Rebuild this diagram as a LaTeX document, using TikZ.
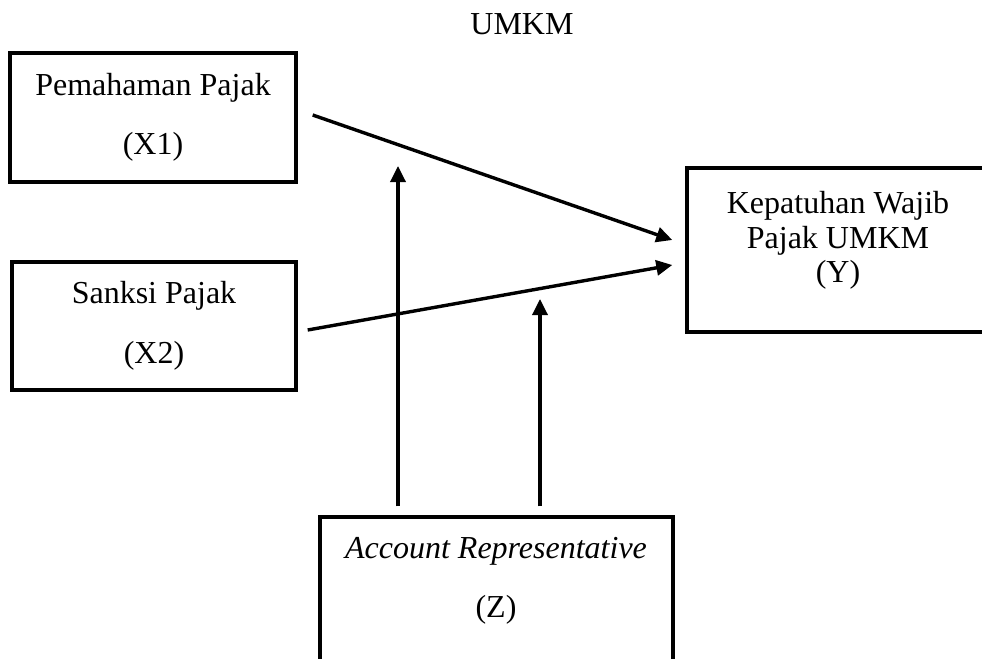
\documentclass[tikz,border=0pt]{standalone}
\usepackage{fontspec}
\setmainfont{Liberation Serif}
\usetikzlibrary{arrows.meta,calc}

\tikzset{
  box/.style={draw, line width=1.7pt, inner sep=0pt},
  txt/.style={anchor=base, inner sep=0pt, font=\fontsize{16}{19}\selectfont},
  link/.style={line width=1.7pt, -{Triangle[length=8pt,width=7.5pt]}}
}

\begin{document}
\begin{tikzpicture}[x=0.5pt,y=-0.5pt]
    \useasboundingbox (0,0) rectangle (982,659);

    \node[txt] (title) at (522,34){UMKM};

    \node[box, minimum width=143pt, minimum height=64.5pt] (x1) at (153,117.5){};
    \node[txt] (x1a) at (153,95){Pemahaman Pajak};
    \node[txt] (x1b) at (153,154){(X1)};

    \node[box, minimum width=142pt, minimum height=64pt] (x2) at (154,326){};
    \node[txt] (x2a) at (154,303){Sanksi Pajak};
    \node[txt] (x2b) at (154,363){(X2)};

    \node[box, minimum width=156.5pt, minimum height=82pt] (y) at (843.5,250){};
    \node[txt] (ya) at (838,213){Kepatuhan Wajib};
    \node[txt] (yb) at (838,248){Pajak UMKM};
    \node[txt] (yc) at (838,282){(Y)};

    \node[box, minimum width=176.5pt, minimum height=81.5pt] (z) at (496.5,598.5){};
    \node[txt] (za) at (496,558){\itshape Account Representative};
    \node[txt] (zb) at (496,617){(Z)};

    \coordinate (m1) at (398,166);
    \coordinate (m2) at (540,299);

    \draw[link] ($(x1.east)+(15,-2.5)$) -- ($(y.west)+(-13,-10)$);
    \draw[link] ($(x2.east)+(10,4)$) -- ($(y.west)+(-13,15)$);
    \draw[link] ($(z.north)+(-98.5,-9)$) -- (m1);
    \draw[link] ($(z.north)+(43.5,-9)$) -- (m2);
\end{tikzpicture}
\end{document}
